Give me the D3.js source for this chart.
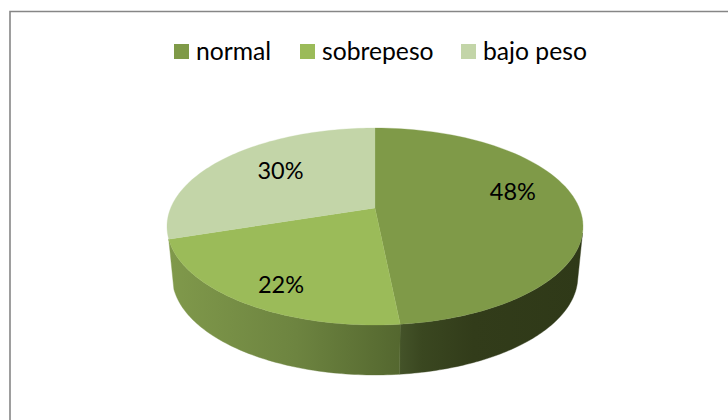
<!DOCTYPE html>
<html>
<head>
<meta charset="utf-8">
<script src="https://cdn.jsdelivr.net/npm/d3@7"></script>
<style>
html,body{margin:0;padding:0;background:#fff;}
svg{display:block;}
text{font-family:Lato,"Open Sans",sans-serif;fill:#000;}
</style>
</head>
<body>
<svg id="c" width="728" height="420"></svg>
<script>
const categories = ["normal", "sobrepeso", "bajo peso"];
const values = [48.4, 21.6, 30];
const colors = ["#7f9a48", "#9bbb59", "#c3d5a8"];
const wallStops = [
  [[0, "#445329"], [0.12, "#3a4720"], [0.4, "#323c1a"], [1, "#2f3918"]],
  [[0, "#80994b"], [0.55, "#6d8440"], [1, "#54672f"]]
];
const legendX = [174, 300, 461];
const labelNudge = [[0, -13], [-9, 16], [10, -1.5]];

const svg = d3.select("#c");
const defs = svg.append("defs");

// Frame: only the left and top edges fall inside the crop
svg.append("path").attr("d", "M10 420V11.5H728").attr("fill", "none")
  .attr("stroke", "#868686").attr("stroke-width", 1.6);

// Perspective projection of the tilted disc
const cx = 375, cy = 208, k = 0.1878, A = 204.3, B = 95, depth = 50, shrink = 0.975;
const top3d = (t, r = 1) => {
  const w = 1 + k * r * Math.cos(t);
  return [cx + A * r * Math.sin(t) / w, cy - B * r * Math.cos(t) / w];
};
const bottom3d = t => {
  const [x, y] = top3d(t);
  return [cx + (x - cx) * shrink, y + depth];
};
const pie = d3.pie().sort(null)(values);
const samples = (a, b, f) => d3.range(0, 81).map(i => f(a + (b - a) * i / 80));
const line = d3.line();

// Visible range of the side wall
const wallStart = 1.824, wallEnd = pie[1].endAngle;

pie.slice(0, 2).forEach((d, i) => {
  const a = Math.max(d.startAngle, wallStart), b = Math.min(d.endAngle, wallEnd);
  const xs = samples(a, b, top3d).map(p => p[0]);
  const gid = "wall" + i;
  const g = defs.append("linearGradient").attr("id", gid)
    .attr("gradientUnits", "userSpaceOnUse")
    .attr("x1", d3.min(xs)).attr("x2", d3.max(xs)).attr("y1", 0).attr("y2", 0);
  wallStops[i].forEach(s => g.append("stop").attr("offset", s[0]).attr("stop-color", s[1]));
  const pts = samples(a, b, top3d).concat(samples(a, b, bottom3d).reverse());
  svg.append("path").attr("d", line(pts) + "Z").attr("fill", `url(#${gid})`)
    .attr("stroke", `url(#${gid})`).attr("stroke-width", 0.4);
});

// Top faces
pie.forEach((d, i) => {
  const pts = [[cx, cy]].concat(samples(d.startAngle, d.endAngle, top3d));
  svg.append("path").attr("d", line(pts) + "Z").attr("fill", colors[i])
    .attr("stroke", colors[i]).attr("stroke-width", 0.3);
});

// Percent labels
const total = d3.sum(values);
pie.forEach((d, i) => {
  const [x, y] = top3d((d.startAngle + d.endAngle) / 2, 0.68);
  svg.append("text").attr("x", x + labelNudge[i][0]).attr("y", y + labelNudge[i][1] + 8)
    .attr("text-anchor", "middle").attr("font-size", 23.5)
    .text(Math.round(values[i] / total * 100) + "%");
});

// Legend
categories.forEach((c, i) => {
  svg.append("rect").attr("x", legendX[i]).attr("y", 44).attr("width", 15).attr("height", 15)
    .attr("fill", colors[i]);
  svg.append("text").attr("x", legendX[i] + 22).attr("y", 59.5)
    .attr("font-size", 24.7).text(c);
});
</script>
</body>
</html>
